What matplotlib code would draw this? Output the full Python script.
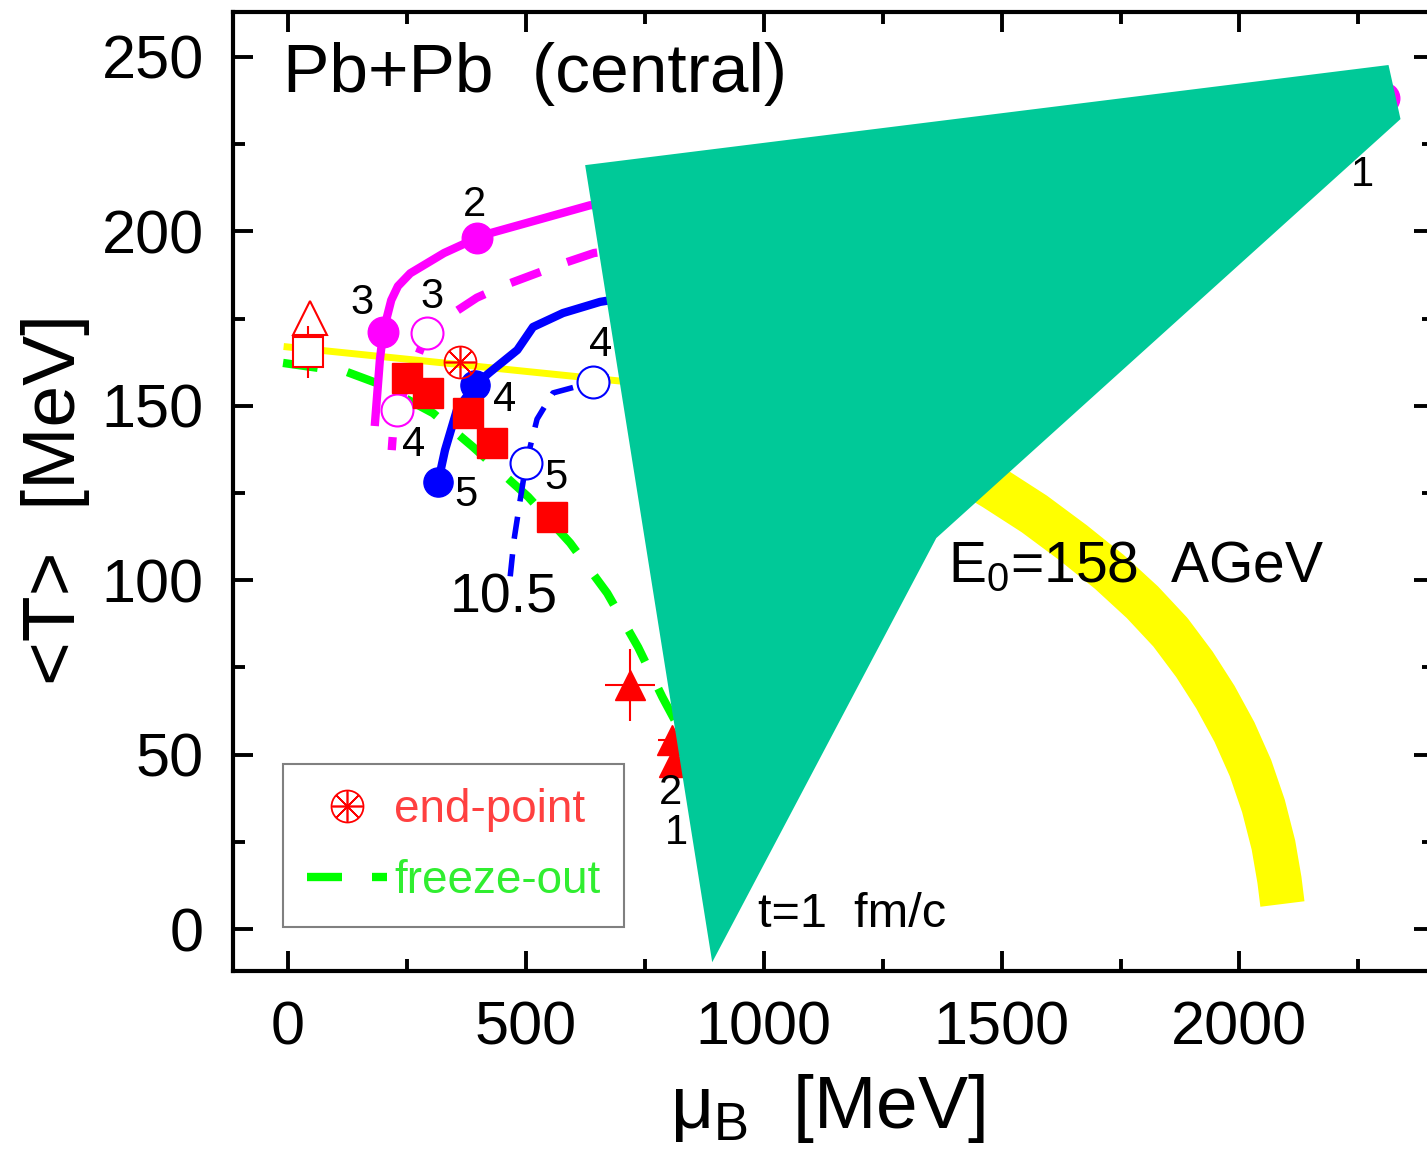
import numpy as np
import matplotlib
matplotlib.use('Agg')
import matplotlib.pyplot as plt
from matplotlib.lines import Line2D
from matplotlib.patches import Polygon
from matplotlib.ticker import MultipleLocator
from matplotlib.legend_handler import HandlerTuple

plt.rcParams['font.family'] = ['Liberation Sans', 'DejaVu Sans']
plt.rcParams['mathtext.fontset'] = 'custom'
plt.rcParams['mathtext.rm'] = 'Liberation Sans'

# E0=158 AGeV, solid magenta trajectory (t = 1, 2, 3)
mag_mu = [2303, 2286, 2233, 1918, 1287, 635, 425, 397, 328, 257, 231, 217, 200, 193, 183]
mag_T = [238.2, 227.6, 223.3, 216.2, 210.4, 207.5, 199.5, 198.1, 193.8, 188.0, 184.3, 180.3, 171.2, 163.0, 145.4]
mag_pt_mu = [2303, 397, 200]
mag_pt_T = [238.2, 198.1, 171.2]

# dashed magenta trajectory (open circles t = 3, 4)
magd_mu = [900, 643, 582, 513, 456, 397, 341, 292, 262, 229, 221, 218]
magd_T = [198.5, 193.8, 191.0, 187.5, 184.6, 181.0, 176.0, 170.9, 160.5, 148.8, 143.0, 137.3]
magd_pt_mu = [292, 229]
magd_pt_T = [170.9, 148.8]

# solid blue trajectory (t = 4, 5)
blu_mu = [800, 656, 578, 515, 482, 425, 393, 355, 330, 315.5]
blu_T = [183.0, 179.8, 176.6, 172.6, 166.0, 159.7, 156.0, 148.8, 137.3, 128.2]
blu_pt_mu = [393, 315.5]
blu_pt_T = [156.0, 128.2]

# dashed blue trajectory, 10.5 (open circles t = 4, 5)
blud_mu = [750, 641, 557, 523.5, 500.5, 488, 475, 467]
blud_T = [162.0, 156.8, 153.7, 146.2, 133.6, 123.0, 111.5, 101.0]
blud_pt_mu = [641, 500.5]
blud_pt_T = [156.8, 133.6]

# freeze-out curve
fo_mu = [-10.5, 124, 187, 305, 389, 505, 593, 671, 736, 787, 824, 866]
fo_T = [162.3, 159.7, 156.5, 147.9, 138.2, 123.9, 110.7, 96.3, 80.8, 66.5, 57.1, 42.7]

# thin yellow line
yl_mu = [-2, 677, 800]
yl_T = [166.9, 157.4, 155.7]

# thick yellow band
yb_mu = [1413.3, 1484.8, 1568.9, 1650.9, 1726.6, 1796.0, 1854.9, 1905.4, 1949.5,
         1989.5, 2023.1, 2050.5, 2071.5, 2084.1, 2090.4]
yb_T = [132.2, 126.4, 119.0, 110.7, 102.4, 93.7, 85.1, 75.9, 66.5,
        56.5, 46.2, 35.3, 24.1, 14.1, 7.2]

# data points
sq_mu = [250.3, 294.4, 378.5, 429, 555.2]
sq_T = [158.0, 153.7, 147.9, 139.3, 118.1]
tri_mu = [719.2, 807.6, 811.8]
tri_T = [70.0, 54.2, 47.9]
tri_xerr = [52.6, 30, 0]
tri_yerr = [10.3, 0, 0]
otri_mu, otri_T = [46.3], [175.3]
osq_mu, osq_T, osq_err = [42], [165.4], [7.45]
end_mu, end_T = [361.7], [162.6]

# time labels
lab_txt = ['2', '3', '3', '4', '4', '5', '5', '4', '1', '2', '1']
lab_mu = [391.2, 155.6, 302.8, 265, 454.3, 374.3, 563.6, 656.2, 2258.7, 803.4, 816]
lab_T = [207.6, 179.5, 181.2, 138.8, 151.7, 124.4, 129.3, 167.4, 216.2, 39.0, 27.5]

# covering shape
cover_mu = [624.6, 2313.4, 2338.6, 1362.8, 891.7]
cover_T = [219.0, 247.7, 232.2, 112.1, -9.5]

fig = plt.figure(figsize=(14.27, 11.63), dpi=100)
ax = fig.add_axes([0.1633, 0.1651, 0.8416, 0.8246])
ax.set_xlim(-115.6, 2409)
ax.set_ylim(-12, 262.9)

ax.plot(yb_mu, yb_T, color='#ffff00', lw=32, solid_capstyle='butt', solid_joinstyle='round', zorder=1)
ax.plot(yl_mu, yl_T, color='#ffff00', lw=5, zorder=2)
ax.plot(fo_mu, fo_T, color='#00ff00', lw=6, dashes=(4.2, 3.6), zorder=3)

ax.plot(mag_mu, mag_T, color='#ff00ff', lw=6, solid_joinstyle='round', zorder=4)
ax.plot(mag_pt_mu, mag_pt_T, 'o', color='#ff00ff', ms=22, zorder=5)
ax.plot(magd_mu, magd_T, color='#ff00ff', lw=6, dashes=(3.8, 3.4), zorder=4)
ax.plot(magd_pt_mu, magd_pt_T, 'o', mfc='white', mec='#ff00ff', mew=1.5, ms=23, zorder=5)

ax.plot(blu_mu, blu_T, color='#0000ff', lw=6, solid_joinstyle='round', zorder=4)
ax.plot(blu_pt_mu, blu_pt_T, 'o', color='#0000ff', ms=21, zorder=5)
ax.plot(blud_mu, blud_T, color='#0000ff', lw=4, dashes=(4, 2.8), zorder=4)
ax.plot(blud_pt_mu, blud_pt_T, 'o', mfc='white', mec='#0000ff', mew=1.5, ms=23, zorder=5)

ax.plot(sq_mu, sq_T, 's', color='red', ms=22, zorder=6)
ax.errorbar(tri_mu, tri_T, xerr=tri_xerr, yerr=tri_yerr, fmt='^', color='red', ms=22, elinewidth=1.5, zorder=6)
ax.plot(otri_mu, otri_T, '^', mfc='white', mec='red', mew=1.5, ms=24, zorder=6)
ax.errorbar(osq_mu, osq_T, yerr=osq_err, fmt='s', mfc='white', mec='red', mew=1.5, ms=21, ecolor='red', elinewidth=1.5, zorder=6)
ax.plot(end_mu, end_T, 'o', mfc='none', mec='red', mew=1.3, ms=23, zorder=6)
ax.plot(end_mu, end_T, marker=(8, 2, 0), ls='none', mec='red', mew=1.2, ms=22, zorder=6)

for t, m, T in zip(lab_txt, lab_mu, lab_T):
    ax.text(m, T, t, fontsize=30, ha='center', va='center', zorder=7)

ax.text(-10.5, 240, 'Pb+Pb  (central)', fontsize=50, ha='left', va='baseline')
ax.text(340.7, 90.9, '10.5', fontsize=40, ha='left', va='baseline', zorder=7)
ax.text(1388, 99.5, r'E$_{\rm 0}$=158  AGeV', fontsize=41, ha='left', va='baseline', zorder=7)
ax.text(988.4, 0.6, 't=1  fm/c', fontsize=35, ha='left', va='baseline', zorder=7)

cover = Polygon(np.column_stack([cover_mu, cover_T]), closed=True, facecolor='#00c998',
                edgecolor='none', zorder=10, clip_on=False)
ax.add_patch(cover)

h_end = (Line2D([], [], ls='none', marker='o', ms=23, mfc='none', mec='red', mew=1.3),
         Line2D([], [], ls='none', marker=(8, 2, 0), ms=22, mec='red', mew=1.2))
h_fo = Line2D([], [], color='#00ff00', lw=6, dashes=(4.2, 3.6))
leg = ax.legend([h_end, h_fo], ['end-point', 'freeze-out'],
                handler_map={tuple: HandlerTuple(ndivide=1)},
                loc='lower left', bbox_to_anchor=(0.0416, 0.0459), borderaxespad=0,
                fontsize=33, labelcolor=['#ff4040', '#30ee30'], fancybox=False,
                edgecolor='#808080', framealpha=1, handlelength=1.75, handletextpad=0.15,
                borderpad=0.52, labelspacing=0.6)
leg.get_frame().set_linewidth(1.5)

ax.xaxis.set_major_locator(MultipleLocator(500))
ax.xaxis.set_minor_locator(MultipleLocator(250))
ax.yaxis.set_major_locator(MultipleLocator(50))
ax.yaxis.set_minor_locator(MultipleLocator(25))
ax.tick_params(which='both', direction='in', top=True, right=True, width=2.8, color='black')
ax.tick_params(which='major', length=14.4, labelsize=44, pad=21)
ax.tick_params(which='minor', length=8.6)
for s in ax.spines.values():
    s.set_linewidth(3)

ax.set_xlabel(r'μ$_{\rm B}$  [MeV]', fontsize=54)
ax.set_ylabel('<T>  [MeV]', fontsize=54)
ax.xaxis.set_label_coords(0.4954, -0.105)
ax.yaxis.set_label_coords(-0.119, 0.492)

fig.savefig('out.png', dpi=100)
